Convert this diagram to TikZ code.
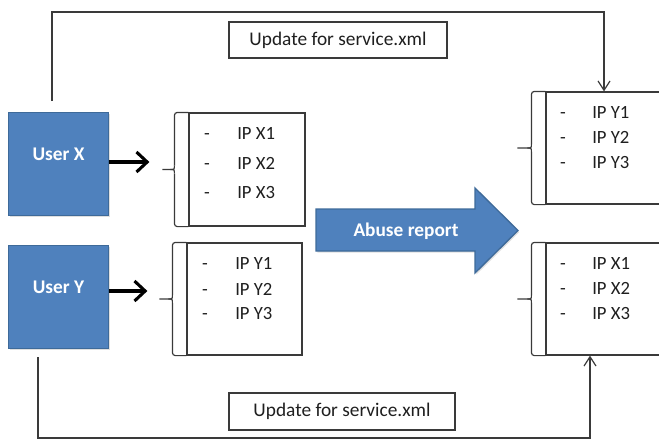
\documentclass[tikz,border=0pt]{standalone}
\usepackage{fontspec}
\setmainfont{Carlito}
\usetikzlibrary{arrows.meta,calc,shadows}
\definecolor{ublue}{HTML}{4F81BD}
\definecolor{ubord}{HTML}{3E6A99}
\definecolor{lcol}{HTML}{3A3A3A}
\begin{document}
\begin{tikzpicture}[x=0.75pt,y=-0.75pt,
  user/.style={draw=ubord,line width=1.4pt,fill=ublue,text=white,
    font=\fontsize{14.5}{17}\selectfont\bfseries,
    minimum width={100*0.75pt},minimum height={103*0.75pt},inner sep=0pt,
    text height={11*0.75pt},text depth={19*0.75pt},
    drop shadow={opacity=0.25,shadow xshift=1pt,shadow yshift=-1.2pt}},
  listbox/.style={draw=lcol,line width=0.9pt,fill=white,inner sep=0pt},
  bracket/.style={draw=lcol,line width=0.9pt,rounded corners=2.2pt},
  item/.style={font=\fontsize{14}{16}\selectfont,inner sep=0pt,text=black!88},
  label/.style={draw=lcol,line width=0.9pt,fill=white,inner sep=0pt,
    font=\fontsize{14.5}{17}\selectfont,text=black!88},
  conn/.style={draw=lcol,line width=0.9pt,-{Straight Barb[length=7pt,width=9pt,line width=0.9pt]}},
  plain/.style={draw=lcol,line width=0.9pt},
  fat/.style={draw=black,line width=2.3pt,-{Straight Barb[length=8pt,width=15pt,line width=2.3pt]}},
]
\useasboundingbox (0,0) rectangle (659,443);
\clip (0,0) rectangle (659,443);

% user boxes
\node[user] (ux) at (58.5,164) {User X};
\node[user] (uy) at (58.5,297) {User Y};

% list boxes
\node[listbox,minimum width={116*0.75pt},minimum height={113*0.75pt}] (lx) at (247,169.5) {};
\node[listbox,minimum width={115*0.75pt},minimum height={112*0.75pt}] (ly) at (244.5,299) {};
\node[listbox,minimum width={124*0.75pt},minimum height={112*0.75pt}] (ry) at (608,148) {};
\node[listbox,minimum width={124*0.75pt},minimum height={112*0.75pt}] (rx) at (608,299) {};

% brackets
\foreach \b/\o/\t in {lx/14/26, ly/14/27, ry/14/28, rx/14/28}{
  \draw[bracket] (\b.north west) -- ++(-\o,0) -- ($(\b.west)+(-\o,-4)$);
  \draw[bracket] (\b.south west) -- ++(-\o,0) -- ($(\b.west)+(-\o,4)$);
  \draw[plain] ($(\b.west)+(-\o,-4)$) .. controls ($(\b.west)+(-\o,0)$) .. ($(\b.west)+(-\o-4,0)$) -- ($(\b.west)+(-\t,0)$);
  \draw[plain] ($(\b.west)+(-\o,4)$) .. controls ($(\b.west)+(-\o,0)$) .. ($(\b.west)+(-\o-4,0)$);
}

% list items (placed on their baselines)
\foreach \n/\dx/\tx/\ya/\yb/\yc/\la/\lb/\lc in {
  lx/207/237/133/163/192/X1/X2/X3,
  ly/205/235/263/289/313/Y1/Y2/Y3,
  ry/563/592/112/137/162/Y1/Y2/Y3,
  rx/563/592/263/288/313/X1/X2/X3}{
  \node[item,anchor=base] (\n d1) at (\dx,\ya+6) {-};
  \node[item,anchor=base] (\n d2) at (\dx,\yb+6) {-};
  \node[item,anchor=base] (\n d3) at (\dx,\yc+6) {-};
  \node[item,anchor=base west] (\n t1) at (\tx,\ya+6) {IP \la};
  \node[item,anchor=base west] (\n t2) at (\tx,\yb+6) {IP \lb};
  \node[item,anchor=base west] (\n t3) at (\tx,\yc+6) {IP \lc};
}

% user arrows
\draw[fat,shorten >={39*0.75pt}] ([yshift={2*0.75pt}]ux.east) -- ([yshift={2*0.75pt}]ux.east -| lx.west);
\draw[fat,shorten >={39*0.75pt}] ([yshift={6*0.75pt}]uy.east) -- ([yshift={6*0.75pt}]uy.east -| ly.west);

% abuse report arrow
\fill[ublue,draw=ubord,line width=1pt,drop shadow={opacity=0.25,shadow xshift=1pt,shadow yshift=-1.2pt}] (316,209) -- (475,209) -- (475,188) -- (518,230.5) -- (475,273) -- (475,251) -- (316,251) -- cycle;
\node[text=white,font=\fontsize{14.5}{17}\selectfont\bfseries] (ab) at (406,231) {Abuse report};

% update labels
\node[label,minimum width={218*0.75pt},minimum height={36*0.75pt}] (u1) at (338,40) {Update for service.xml};
\node[label,minimum width={226*0.75pt},minimum height={37*0.75pt}] (u2) at (342,411.5) {Update for service.xml};

% connectors
\coordinate (ts) at (52,101);
\coordinate (tc) at (604,12);
\draw[conn] (ts) |- (tc) -- (tc |- ry.north);
\coordinate (bs) at (38,357);
\coordinate (bc) at (590,438);
\draw[conn] (bs) |- (bc) -- (bc |- rx.south);
\end{tikzpicture}
\end{document}
